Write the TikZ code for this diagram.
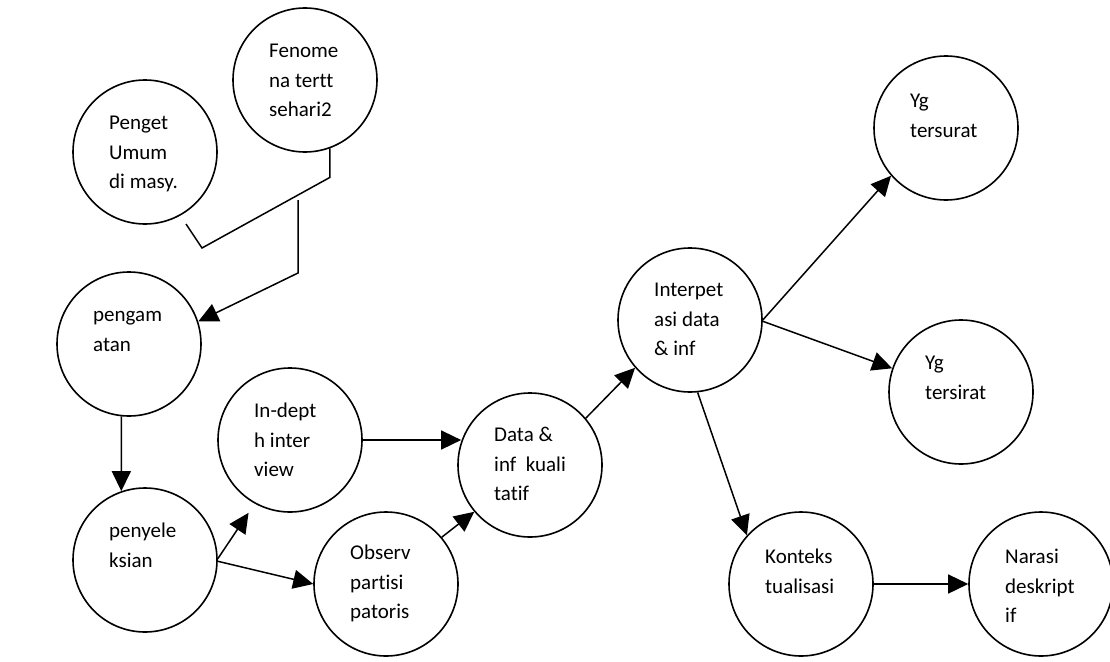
\documentclass[tikz,border=0pt]{standalone}
\usepackage{fontspec}
\setmainfont{Carlito}[Ligatures={NoCommon,NoContextual}]
\usetikzlibrary{arrows.meta}
\begin{document}
\begin{tikzpicture}[x=1pt,y=-1pt,
  bub/.style={circle,draw=black,line width=1.6pt,minimum size=144pt,inner sep=0pt},
  lbl/.style={anchor=north west,inner sep=0pt,align=left,font=\fontsize{21}{29.5}\selectfont},
  con/.style={line width=1.5pt,draw=black},
  arr/.style={con,-{Triangle[length=20pt,width=19pt]}}]
\useasboundingbox (0,0) rectangle (1110,661);
% circles
\node[bub] (A) at (145,152) {};
\node[bub] (B) at (305,80) {};
\node[bub] (C) at (129,344) {};
\node[bub] (D) at (145,560) {};
\node[bub] (E) at (290,440) {};
\node[bub] (F) at (386,584) {};
\node[bub] (G) at (530,465) {};
\node[bub] (H) at (690,320) {};
\node[bub] (I) at (946,128) {};
\node[bub] (J) at (961,392) {};
\node[bub] (K) at (801,584) {};
\node[bub] (L) at (1041,584) {};
% texts
\node[lbl] (tA) at ([shift={(-36,-43)}]A.center) {\strut Penget\\\strut Umum\\\strut di masy.};
\node[lbl] (tB) at ([shift={(-36,-43)}]B.center) {\strut Fenome\\\strut na tertt\\\strut sehari2};
\node[lbl] (tC) at ([shift={(-36,-43)}]C.center) {\strut pengam\\\strut atan};
\node[lbl] (tD) at ([shift={(-36,-43)}]D.center) {\strut penyele\\\strut ksian};
\node[lbl] (tE) at ([shift={(-36,-43)}]E.center) {\strut In-dept\\\strut h inter\\\strut view};
\node[lbl] (tF) at ([shift={(-36,-45)}]F.center) {\strut Observ\\\strut partisi\\\strut patoris};
\node[lbl] (tG) at ([shift={(-36,-44)}]G.center) {\strut Data \&\\\strut inf\ \ kuali\\\strut tatif};
\node[lbl] (tH) at ([shift={(-36,-44)}]H.center) {\strut Interpet\\\strut asi data\\\strut \& inf};
\node[lbl] (tI) at ([shift={(-36,-41)}]I.center) {\strut Yg\\\strut tersurat};
\node[lbl] (tJ) at ([shift={(-36,-43)}]J.center) {\strut Yg\\\strut tersirat};
\node[lbl] (tK) at ([shift={(-36,-41)}]K.center) {\strut Konteks\\\strut tualisasi};
\node[lbl] (tL) at ([shift={(-36,-41)}]L.center) {\strut Narasi\\\strut deskript\\\strut if};
% free ends of the two bent lines
\coordinate (b2) at (202,248);
\coordinate (b3) at (186,224);
\coordinate (c1) at (298,200);
\coordinate (c2) at (298,273);
% connectors
\draw[con] (B.-70) -- ++(0,29) -- (b2) -- (b3);
\draw[arr] (c1) -- (c2) -- (C.18);
\draw[arr] (C.-96) -- (D.109);
\draw[arr,shorten >=11pt] (D.1) -- (E.-119);
\draw[arr] (D.-1) -- (F.180);
\draw[arr] (E.east) -- (G.161 |- E.east);
\draw[arr] (F.40) -- (G.220);
\draw[arr] (G.40) -- (H.221);
\draw[arr] (H.0) -- (I.221);
\draw[arr] (H.-1) -- (J.161);
\draw[arr] (H.-84) -- (K.138);
\draw[arr] (K.east) -- (L.west);
\end{tikzpicture}
\end{document}
